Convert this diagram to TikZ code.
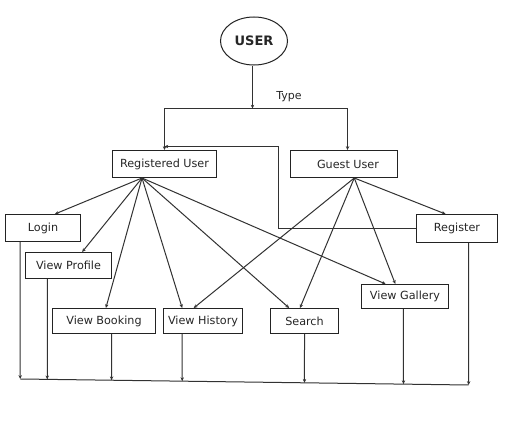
\documentclass[tikz,border=0pt]{standalone}
\usepackage{fontspec}
\setmainfont{DejaVu Sans}
\usetikzlibrary{arrows.meta,calc,shapes.geometric}
\definecolor{linec}{RGB}{50,50,50}
\definecolor{boxc}{RGB}{35,35,35}
\begin{document}
\begin{tikzpicture}[x=1pt,y=-1pt,
  box/.style={draw=boxc,line width=1pt,inner sep=0pt,font=\fontsize{11.2}{13}\selectfont,text=black!85},
  conn/.style={draw=linec,line width=1pt},
  arr/.style={conn,-{Stealth[length=3.8pt,width=3.4pt]}}]
\useasboundingbox[fill=white] (0,0) rectangle (515,423);
% nodes
\node[draw=boxc,line width=1pt,ellipse,minimum width=67pt,minimum height=48pt,inner sep=0pt,font=\fontsize{13}{15}\selectfont\bfseries,text=black!85] (user) at (254,41) {USER};
\node[font=\fontsize{11}{13}\selectfont,text=black!85] (type) at (289,97) {Type};
\node[box,minimum width=104pt,minimum height=27pt] (ru) at (164.5,164) {Registered User};
\node[box,minimum width=107pt,minimum height=27pt] (gu) at (344,164) {\hspace{8pt}Guest User};
\node[box,minimum width=75pt,minimum height=27pt] (login) at (43,228) {Login};
\node[box,minimum width=86pt,minimum height=26pt] (prof) at (68.5,265.5) {View Profile};
\node[box,minimum width=103pt,minimum height=25pt] (book) at (104,321) {View Booking};
\node[box,minimum width=79pt,minimum height=25pt] (hist) at (203,321) {View History};
\node[box,minimum width=68pt,minimum height=25pt] (search) at (304.5,321) {Search};
\node[box,minimum width=87pt,minimum height=24pt] (gal) at (405,296.5) {View Gallery};
\node[box,minimum width=81pt,minimum height=28pt] (reg) at (457,228.5) {Register};
% top structure
\coordinate (tj) at (252.5,108.5);
\draw[arr] (user.south -| tj) -- (tj);
\draw[arr] (tj) -| (ru.north);
\draw[arr] (tj) -| ($(gu.north west)!0.5327!(gu.north east)$);
% register loop back
\coordinate (lk) at (278.5,146.5);
\draw[arr] (reg.west) -| (lk) -- (ru.north |- lk);
% sources
\coordinate (rs) at ($(ru.south west)!0.286!(ru.south east)$);
\coordinate (gs) at ($(gu.south west)!0.595!(gu.south east)$);
% registered user links
\draw[arr] (rs) -- ($(login.north west)!0.657!(login.north east)$);
\draw[arr] (rs) -- ($(prof.north west)!0.657!(prof.north east)$);
\draw[arr] (rs) -- ($(book.north west)!0.518!(book.north east)$);
\draw[arr] (rs) -- ($(hist.north west)!0.24!(hist.north east)$);
\draw[arr] (rs) -- ($(search.north west)!0.278!(search.north east)$);
\draw[arr] (rs) -- ($(gal.north west)!0.28!(gal.north east)$);
% guest user links
\draw[arr] (gs) -- ($(hist.north west)!0.384!(hist.north east)$);
\draw[arr] (gs) -- ($(search.north west)!0.434!(search.north east)$);
\draw[arr] (gs) -- ($(gal.north west)!0.39!(gal.north east)$);
\draw[arr] (gs) -- ($(reg.north west)!0.36!(reg.north east)$);
% bottom collector
\coordinate (b1) at (20.5,379);
\coordinate (b2) at (468.5,385);
\draw[conn] (b1) -- (b2);
\foreach \n/\f in {login/0.2,prof/0.2558,book/0.5728,hist/0.2405,search/0.5,gal/0.4828,reg/0.642}{
  \coordinate (s) at ($(\n.south west)!\f!(\n.south east)$);
  \coordinate (s2) at ($(s)+(0,10)$);
  \draw[arr] (s) -- (intersection of s--s2 and b1--b2);
}
\end{tikzpicture}
\end{document}
